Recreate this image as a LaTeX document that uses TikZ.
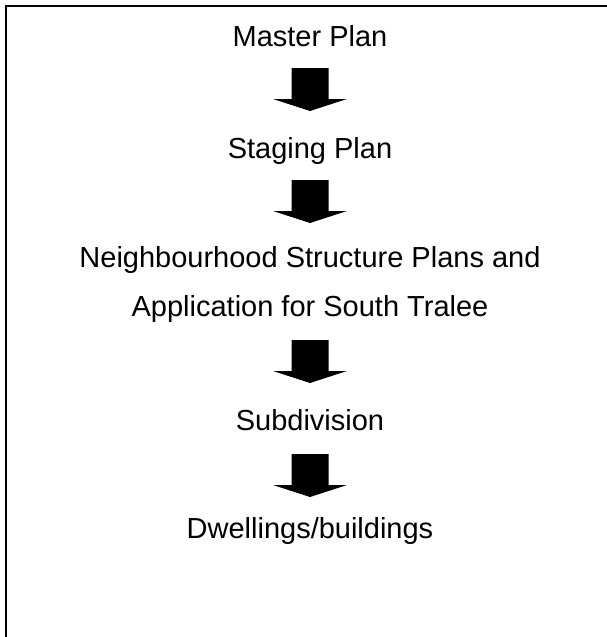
\documentclass[tikz,border=0pt]{standalone}
\usepackage{fontspec}
\setmainfont{Liberation Sans}
\begin{document}
\begin{tikzpicture}[x=1pt,y=1pt,
  label/.style={anchor=base,inner sep=0pt,font=\fontsize{29}{29}\selectfont},
  blockarrow/.pic={\fill[black] (-18.5,0) -- (18.5,0) -- (18.5,-31) -- (37,-31) -- (0,-43) -- (-37,-31) -- (-18.5,-31) -- cycle;}]
\useasboundingbox (0,0) rectangle (607,-637);
\draw[line width=2pt] (6,-640) -- (6,-6) -- (610,-6);
\node[label] (master) at (310,-46) {Master Plan};
\node[label] (staging) at (310,-158) {Staging Plan};
\node[label] (neigh1) at (310,-267) {Neighbourhood Structure Plans and};
\node[label] (neigh2) at (310,-316) {Application for South Tralee};
\node[label] (subdiv) at (310,-430) {Subdivision};
\node[label] (dwell) at (310,-538) {Dwellings/buildings};
\coordinate (a1) at (310,-68);
\coordinate (a2) at (310,-180);
\coordinate (a3) at (310,-340);
\coordinate (a4) at (310,-454);
\pic at (a1) {blockarrow};
\pic at (a2) {blockarrow};
\pic at (a3) {blockarrow};
\pic at (a4) {blockarrow};
\end{tikzpicture}
\end{document}
